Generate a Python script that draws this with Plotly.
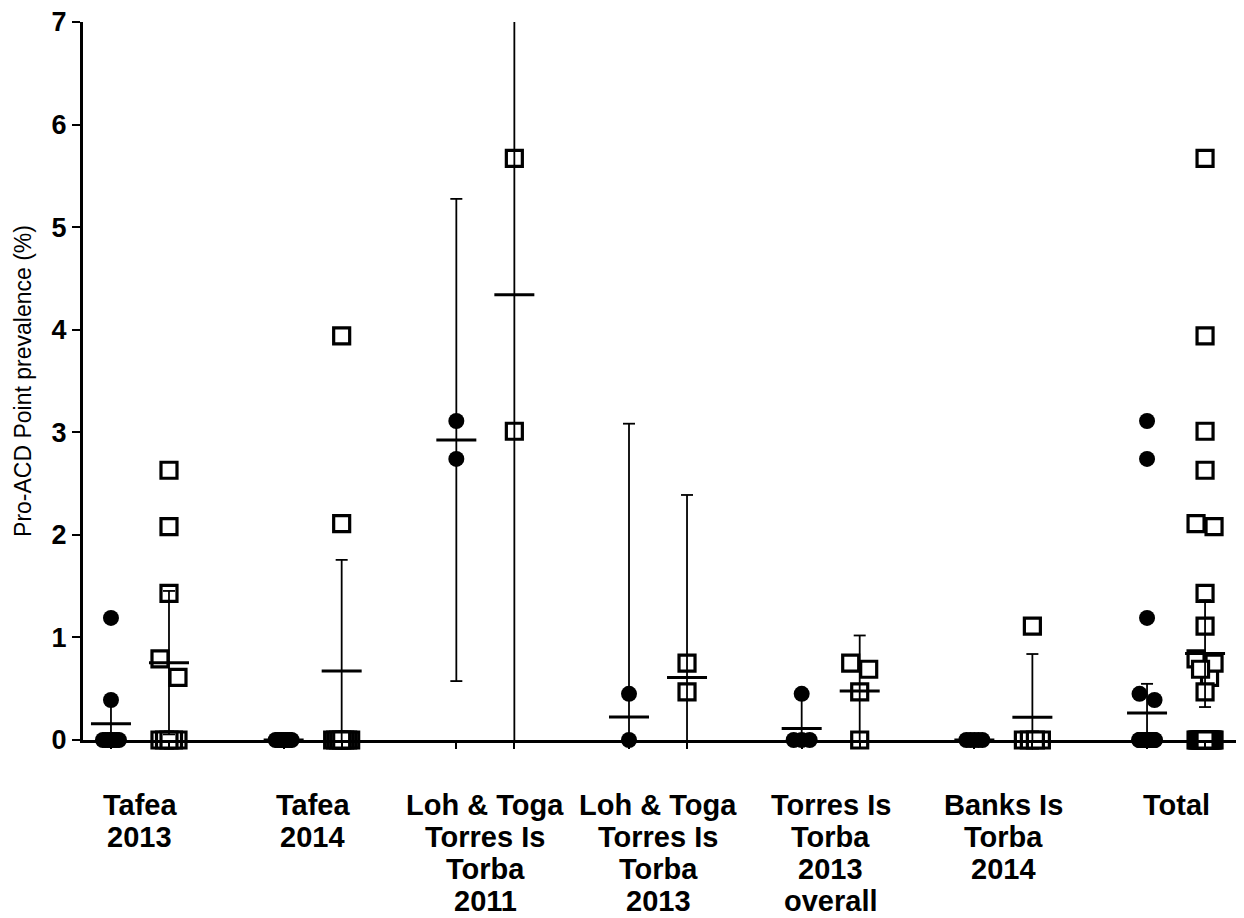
import numpy as np
import plotly.graph_objects as go

# ---------------- data ----------------
categories = ["Tafea<br>2013", "Tafea<br>2014",
              "Loh & Toga<br>Torres Is<br>Torba<br>2011",
              "Loh & Toga<br>Torres Is<br>Torba<br>2013",
              "Torres Is<br>Torba<br>2013<br>overall",
              "Banks Is<br>Torba<br>2014", "Total"]

# filled circles (first column of each group)
tafea13_c = [1.19, 0.39, 0, 0, 0, 0, 0, 0, 0, 0]
tafea14_c = [0, 0, 0, 0, 0, 0, 0, 0, 0]
loh11_c = [3.11, 2.74]
loh13_c = [0.45, 0]
torres_c = [0.45, 0, 0, 0]
banks_c = [0, 0, 0, 0, 0]

# open squares (second column of each group)
tafea13_s = [2.63, 2.08, 1.43, 0.79, 0.61, 0, 0, 0, 0, 0]
tafea14_s = [3.94, 2.11, 0, 0, 0, 0, 0, 0, 0]
loh11_s = [5.67, 3.01]
loh13_s = [0.75, 0.47]
torres_s = [0.75, 0.69, 0.47, 0]
banks_s = [1.11, 0, 0, 0, 0]

# Total = all sites pooled (Loh & Toga 2013 is part of Torres Is overall)
total_c = tafea13_c + tafea14_c + loh11_c + torres_c + banks_c
total_s = tafea13_s + tafea14_s + loh11_s + torres_s + banks_s

circle_groups = [tafea13_c, tafea14_c, loh11_c, loh13_c, torres_c, banks_c, total_c]
square_groups = [tafea13_s, tafea14_s, loh11_s, loh13_s, torres_s, banks_s, total_s]

y_ticks = [0, 1, 2, 3, 4, 5, 6, 7]
y_title = "Pro-ACD Point prevalence (%)"

# two-sided 95% t critical values
T95 = {1: 12.706, 2: 4.303, 3: 3.182, 4: 2.776, 5: 2.571, 6: 2.447, 7: 2.365,
       8: 2.306, 9: 2.262, 10: 2.228, 11: 2.201, 12: 2.179, 13: 2.160, 14: 2.145,
       15: 2.131, 16: 2.120, 17: 2.110, 18: 2.101, 19: 2.093, 20: 2.086,
       21: 2.080, 22: 2.074, 23: 2.069, 24: 2.064, 25: 2.060, 26: 2.056,
       27: 2.052, 28: 2.048, 29: 2.045, 30: 2.042}

# ---------------- geometry ----------------
# the page body has an 8px margin, so the figure is sized/offset accordingly
W, H = 1236, 910
ML, MR, MT, MB = 75, 7, 14, 178
XR = [-0.33, 6.353]
YR = [0, 7]
PX_X = (W - ML - MR) / (XR[1] - XR[0])
PX_Y = (H - MT - MB) / (YR[1] - YR[0])
COL_OFF = 0.168


def swarm(values, marker_px, max_half_px, gap_px):
    order = sorted(range(len(values)), key=lambda i: -values[i])
    clusters = []
    for i in order:
        if clusters and (values[clusters[-1][-1]] - values[i]) * PX_Y < gap_px:
            clusters[-1].append(i)
        else:
            clusters.append([i])
    offs = [0.0] * len(values)
    for cl in clusters:
        n = len(cl)
        if n == 1:
            continue
        half = min((n - 1) * marker_px / 2, max_half_px)
        base = list(np.linspace(-half, half, n))
        seq = []
        while base:
            seq.append(base.pop(0))
            if base:
                seq.append(base.pop(-1))
        for i, o in zip(cl, seq):
            offs[i] = o / PX_X
    return offs


def build_points(groups, side, marker_px, max_half_px):
    xs, ys = [], []
    for g, vals in enumerate(groups):
        offs = swarm(vals, marker_px, max_half_px, marker_px * 1.2)
        for v, o in zip(vals, offs):
            xs.append(g + side * COL_OFF + o)
            ys.append(v)
    return xs, ys


def build_bars(groups, side):
    wx, wy, mx, my = [], [], [], []
    cap = 6 / PX_X
    mhalf = 20 / PX_X
    for g, vals in enumerate(groups):
        a = np.array(vals, dtype=float)
        m = a.mean()
        n = len(a)
        ci = T95[n - 1] * a.std(ddof=1) / np.sqrt(n) if n > 1 else 0.0
        x = g + side * COL_OFF
        lo, hi = m - ci, m + ci
        wx += [x, x, None, x - cap, x + cap, None, x - cap, x + cap, None]
        wy += [lo, hi, None, hi, hi, None, lo, lo, None]
        mx += [x - mhalf, x + mhalf, None]
        my += [m, m, None]
    return wx, wy, mx, my


cx, cy = build_points(circle_groups, -1, 15, 8)
sx, sy = build_points(square_groups, +1, 18, 9)

fig = go.Figure()
fig.add_trace(go.Scatter(x=cx, y=cy, mode="markers", cliponaxis=False,
                         marker=dict(symbol="circle", size=16, color="black",
                                     line=dict(width=0)),
                         hoverinfo="y", showlegend=False))
fig.add_trace(go.Scatter(x=sx, y=sy, mode="markers", cliponaxis=False,
                         marker=dict(symbol="square", size=16, color="white",
                                     line=dict(width=3.2, color="black")),
                         hoverinfo="y", showlegend=False))

for groups, side in ((circle_groups, -1), (square_groups, +1)):
    wx, wy, mx, my = build_bars(groups, side)
    fig.add_trace(go.Scatter(x=wx, y=wy, mode="lines", xaxis="x2",
                             line=dict(color="black", width=1.8),
                             hoverinfo="skip", showlegend=False))
    fig.add_trace(go.Scatter(x=mx, y=my, mode="lines", xaxis="x2",
                             line=dict(color="black", width=3),
                             hoverinfo="skip", showlegend=False))

col_ticks = []
for g in range(len(categories)):
    col_ticks += [g - COL_OFF, g + COL_OFF]

FONT = "Liberation Sans, Arial, sans-serif"

# category labels, one annotation per text line (tight line spacing)
annotations = []
for g, lab in enumerate(categories):
    for k, line in enumerate(lab.split("<br>")):
        annotations.append(dict(
            x=g, y=0, xref="x", yref="y", text=line, showarrow=False,
            xanchor="center", yanchor="middle", yshift=-(65 + k * 32),
            font=dict(family=FONT, size=29, weight="bold", color="black")))

fig.update_layout(
    width=W, height=H,
    margin=dict(l=ML, r=MR, t=MT, b=MB, pad=0, autoexpand=False),
    paper_bgcolor="white", plot_bgcolor="white",
    font=dict(family=FONT, color="black"),
    annotations=annotations,
    xaxis=dict(range=XR, showticklabels=False, ticks="", automargin=False,
               showgrid=False, zeroline=False,
               showline=True, linecolor="black", linewidth=3),
    xaxis2=dict(range=XR, overlaying="x", anchor="y", side="bottom",
                tickmode="array", tickvals=col_ticks, ticks="outside",
                ticklen=8, tickwidth=2, tickcolor="black", automargin=False,
                showticklabels=False, showgrid=False, zeroline=False,
                showline=False),
    yaxis=dict(range=YR, tickmode="array", tickvals=y_ticks, automargin=False,
               ticks="outside", ticklen=8, tickwidth=2, tickcolor="black",
               ticklabeloverflow="allow",
               showgrid=False, zeroline=False, showline=True,
               linecolor="black", linewidth=3,
               tickfont=dict(family=FONT, size=27, weight="bold", color="black"),
               title=dict(text=y_title, standoff=14,
                          font=dict(family=FONT, size=23, color="black"))),
)

fig.write_html("out.html")
